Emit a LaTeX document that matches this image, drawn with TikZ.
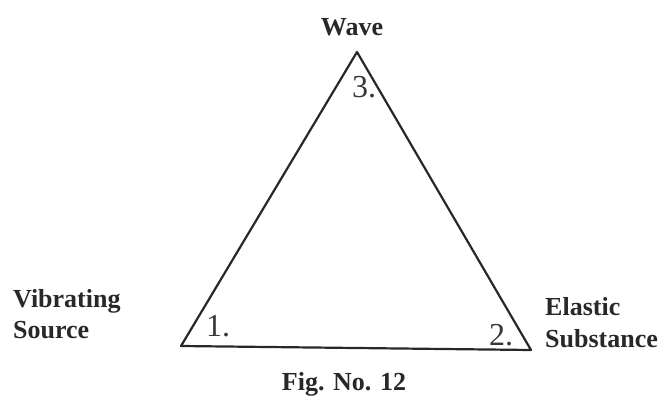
\documentclass[tikz,border=0pt]{standalone}
\usepackage{fontspec}
\setmainfont{Liberation Serif}
\usepackage{xcolor}
\usetikzlibrary{positioning}

\definecolor{ink}{RGB}{40,40,40}
\definecolor{pencil}{RGB}{55,55,55}

\begin{document}
\begin{tikzpicture}[
  x=1pt, y=1pt,
  side/.style={draw=ink, line width=2.2pt, line join=round},
  term/.style={font=\fontsize{26}{30}\selectfont\bfseries, text=ink, inner sep=0pt, anchor=base west},
  digit/.style={font=\fontsize{32}{34}\selectfont, text=pencil, inner sep=0pt}]
\useasboundingbox (0,0) rectangle (669,397);
\coordinate (top) at (357,345);
\coordinate (left) at (181,51);
\coordinate (right) at (531,47);
\draw[side] (top) -- (left) -- (right) -- cycle;
\node[term, anchor=base] (wave) at (352,361) {Wave};
\node[term] (vib) at (13,90) {Vibrating};
\node[term] (src) at (13,59) {Source};
\node[term] (ela) at (545,82) {Elastic};
\node[term] (sub) at (545,50) {Substance};
\node[digit] (three) at (364,310) {3.};
\node[digit] (one) at (218,71) {1.};
\node[digit] (two) at (501,62) {2.};
\node[term, anchor=base] (cap) at (344,7) {Fig. No. 12};
\end{tikzpicture}
\end{document}
